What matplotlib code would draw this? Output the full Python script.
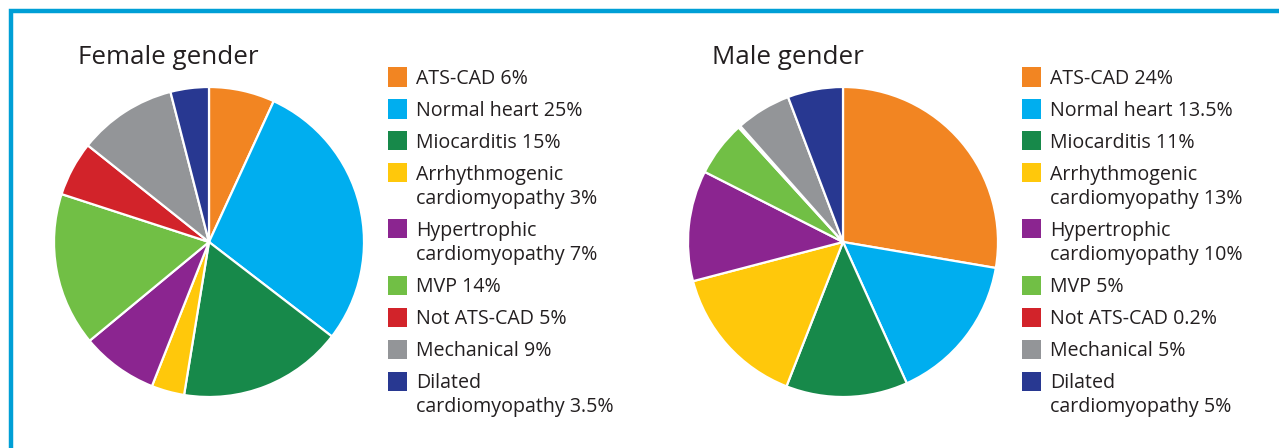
import matplotlib.pyplot as plt
from matplotlib.patches import Rectangle

# Data
categories = ["ATS-CAD", "Normal heart", "Miocarditis", "Arrhythmogenic\ncardiomyopathy",
              "Hypertrophic\ncardiomyopathy", "MVP", "Not ATS-CAD", "Mechanical",
              "Dilated\ncardiomyopathy"]
female_pct = [6, 25, 15, 3, 7, 14, 5, 9, 3.5]
male_pct = [24, 13.5, 11, 13, 10, 5, 0.2, 5, 5]
colors = ["#f28522", "#00aeef", "#17894a", "#ffc80b", "#8b2590",
          "#71bf45", "#d2232a", "#939598", "#283891"]

W, H = 1279, 448
fig = plt.figure(figsize=(W / 100, H / 100), dpi=100)
plt.rcParams['font.family'] = ['Open Sans', 'DejaVu Sans']
text_color = "#231f20"


def fx(px):
    return px / W


def fy(py):
    return 1 - py / H


# blue frame
fig.patches.append(Rectangle((fx(11), fy(H + 20)), fx(W + 20), (H + 9) / H,
                             transform=fig.transFigure, fill=False,
                             edgecolor="#009fd6", linewidth=3.2))


def draw_panel(values, title, cx, cy, r, title_x, leg_x):
    ax = fig.add_axes([fx(cx - r), fy(cy + r), fx(2 * r), 2 * r / H])
    ax.pie(values, colors=colors, startangle=90, counterclock=False,
           wedgeprops=dict(edgecolor="white", linewidth=1.6))
    ax.set_xlim(-1, 1)
    ax.set_ylim(-1, 1)
    ax.set_aspect("equal")
    ax.axis("off")

    fig.text(fx(title_x), fy(64), title, fontsize=18.7, color=text_color,
             va="baseline", ha="left")

    # legend
    y = 77
    for cat, val, col in zip(categories, values, colors):
        fig.patches.append(Rectangle((fx(leg_x), fy(y + 9.5)), fx(19), 19 / H,
                                     transform=fig.transFigure, facecolor=col,
                                     edgecolor="none"))
        lines = cat.split("\n")
        lines[-1] = lines[-1] + " " + ("%g" % val) + "%"
        for i, line in enumerate(lines):
            fig.text(fx(leg_x + 28), fy(y + 7 + 24 * i), line, fontsize=14.1,
                     color=text_color, va="baseline", ha="left")
        y += 32 + 24 * (len(lines) - 1)


draw_panel(female_pct, "Female gender", 209, 242, 155, 78, 388)
draw_panel(male_pct, "Male gender", 843, 242, 155, 712, 1022)

fig.savefig("out.png", dpi=100)
